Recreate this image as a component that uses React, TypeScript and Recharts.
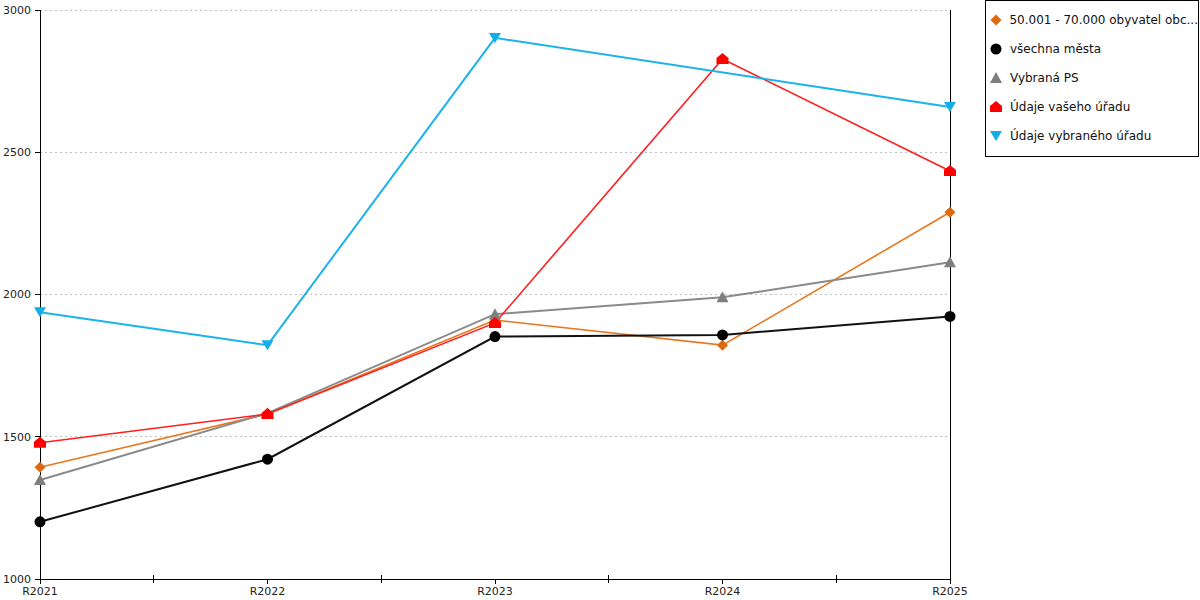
import React from "react";
import { CartesianGrid, Line, LineChart, ReferenceLine, XAxis, YAxis } from "recharts";

const years = ["R2021", "R2022", "R2023", "R2024", "R2025"];
const yTicks = [1000, 1500, 2000, 2500, 3000];
const xTicks = [0, 0.5, 1, 1.5, 2, 2.5, 3, 3.5, 4];

const obce = [1393, 1580, 1910, 1822, 2289];
const mesta = [1201, 1421, 1852, 1858, 1923];
const vybranaPs = [1348, 1583, 1931, 1990, 2113];
const vasUrad = [1479, 1580, 1900, 2828, 2434];
const vybranyUrad: (number | null)[] = [1938, 1822, 2902, null, 2659];

const data = years.map((year, i) => ({
  i,
  year,
  obce: obce[i],
  mesta: mesta[i],
  ps: vybranaPs[i],
  vas: vasUrad[i],
  vyb: vybranyUrad[i],
}));

const FONT = "'DejaVu Sans', Verdana, sans-serif";

type Shape = "diamond" | "circle" | "triangle" | "house" | "down";

function markerPath(shape: Shape, x: number, y: number) {
  switch (shape) {
    case "diamond":
      return `M${x},${y - 5.5}L${x + 5.5},${y}L${x},${y + 5.5}L${x - 5.5},${y}Z`;
    case "triangle":
      return `M${x},${y - 6}L${x + 6},${y + 5}L${x - 6},${y + 5}Z`;
    case "house":
      return `M${x},${y - 6}L${x + 6},${y - 1}L${x + 6},${y + 5}L${x - 6},${y + 5}L${x - 6},${y - 1}Z`;
    case "down":
      return `M${x - 6},${y - 5}L${x + 6},${y - 5}L${x},${y + 5}Z`;
    default:
      return "";
  }
}

function Marker({ shape, fill, cx, cy }: { shape: Shape; fill: string; cx: number; cy: number }) {
  if (shape === "circle") return <circle cx={cx} cy={cy} r={5.5} fill={fill} />;
  return <path d={markerPath(shape, cx, cy)} fill={fill} />;
}

const series = [
  { key: "obce", name: "50.001 - 70.000 obyvatel obc...", stroke: "#e8781f", fill: "#dc6a12", shape: "diamond" as Shape, width: 1.6 },
  { key: "mesta", name: "všechna města", stroke: "#111111", fill: "#000000", shape: "circle" as Shape, width: 2 },
  { key: "ps", name: "Vybraná PS", stroke: "#8a8a8a", fill: "#7f7f7f", shape: "triangle" as Shape, width: 2 },
  { key: "vas", name: "Údaje vašeho úřadu", stroke: "#ff1f1f", fill: "#ff0000", shape: "house" as Shape, width: 1.6 },
  { key: "vyb", name: "Údaje vybraného úřadu", stroke: "#1cb3ea", fill: "#12aeea", shape: "down" as Shape, width: 2 },
];

function XTick(props: any) {
  const { x, y, payload } = props;
  const v = payload.value as number;
  if (!Number.isInteger(v)) {
    return <line x1={x} x2={x} y1={y - 4} y2={y + 4} stroke="#000" shapeRendering="crispEdges" />;
  }
  return (
    <g>
      <line x1={x} x2={x} y1={y} y2={y + 5} stroke="#000" shapeRendering="crispEdges" />
      <text x={x} y={y + 16} textAnchor="middle" fontSize={11} fill="#222" fontFamily={FONT}>
        {years[v]}
      </text>
    </g>
  );
}

function LegendBox() {
  return (
    <div
      style={{
        position: "absolute",
        left: 985,
        top: 0,
        width: 212,
        height: 150,
        border: "1px solid #000",
        background: "#fff",
        fontFamily: FONT,
        fontSize: 12,
        color: "#111",
        paddingTop: 5,
      }}
    >
      {series.map((s) => (
        <div key={s.key} style={{ height: 28.8, display: "flex", alignItems: "center", whiteSpace: "nowrap" }}>
          <svg width={20} height={16} style={{ marginLeft: 3, marginRight: 1 }}>
            <Marker shape={s.shape} fill={s.fill} cx={7} cy={8} />
          </svg>
          <span>{s.name}</span>
        </div>
      ))}
    </div>
  );
}

export default function App() {
  return (
    <div style={{ position: "absolute", left: 0, top: 0, width: 1200, height: 600, background: "#fff" }}>
      <LineChart width={1200} height={600} data={data} margin={{ top: 10, right: 250, left: 0, bottom: 0 }}>
        <CartesianGrid vertical={false} stroke="#c0c0c0" strokeDasharray="2 3" shapeRendering="crispEdges" />
        <XAxis
          dataKey="i"
          type="number"
          domain={[0, 4]}
          ticks={xTicks}
          interval={0}
          height={21}
          tickSize={0}
          tickMargin={0}
          tickLine={false}
          axisLine={{ stroke: "#000", strokeOpacity: 1, shapeRendering: "crispEdges" }}
          tick={<XTick />}
        />
        <YAxis
          domain={[1000, 3000]}
          ticks={yTicks}
          width={40}
          tickSize={5}
          tickMargin={4}
          axisLine={{ stroke: "#000", strokeOpacity: 1, shapeRendering: "crispEdges" }}
          tickLine={{ stroke: "#000", shapeRendering: "crispEdges" }}
          tick={{ fontSize: 11, fill: "#222", fontFamily: FONT }}
          allowDataOverflow
        />
        {series.map((s) => (
          <Line
            key={s.key}
            type="linear"
            dataKey={s.key}
            name={s.name}
            stroke={s.stroke}
            strokeWidth={s.width}
            connectNulls
            isAnimationActive={false}
            activeDot={false}
            dot={(p: any) =>
              p.cy == null || p.value == null ? (
                <g key={`${s.key}-${p.index}`} />
              ) : (
                <Marker key={`${s.key}-${p.index}`} shape={s.shape} fill={s.fill} cx={p.cx} cy={p.cy} />
              )
            }
          />
        ))}
        <ReferenceLine x={4} stroke="#000" strokeOpacity={1} strokeWidth={1} shapeRendering="crispEdges" />
      </LineChart>
      <LegendBox />
    </div>
  );
}
